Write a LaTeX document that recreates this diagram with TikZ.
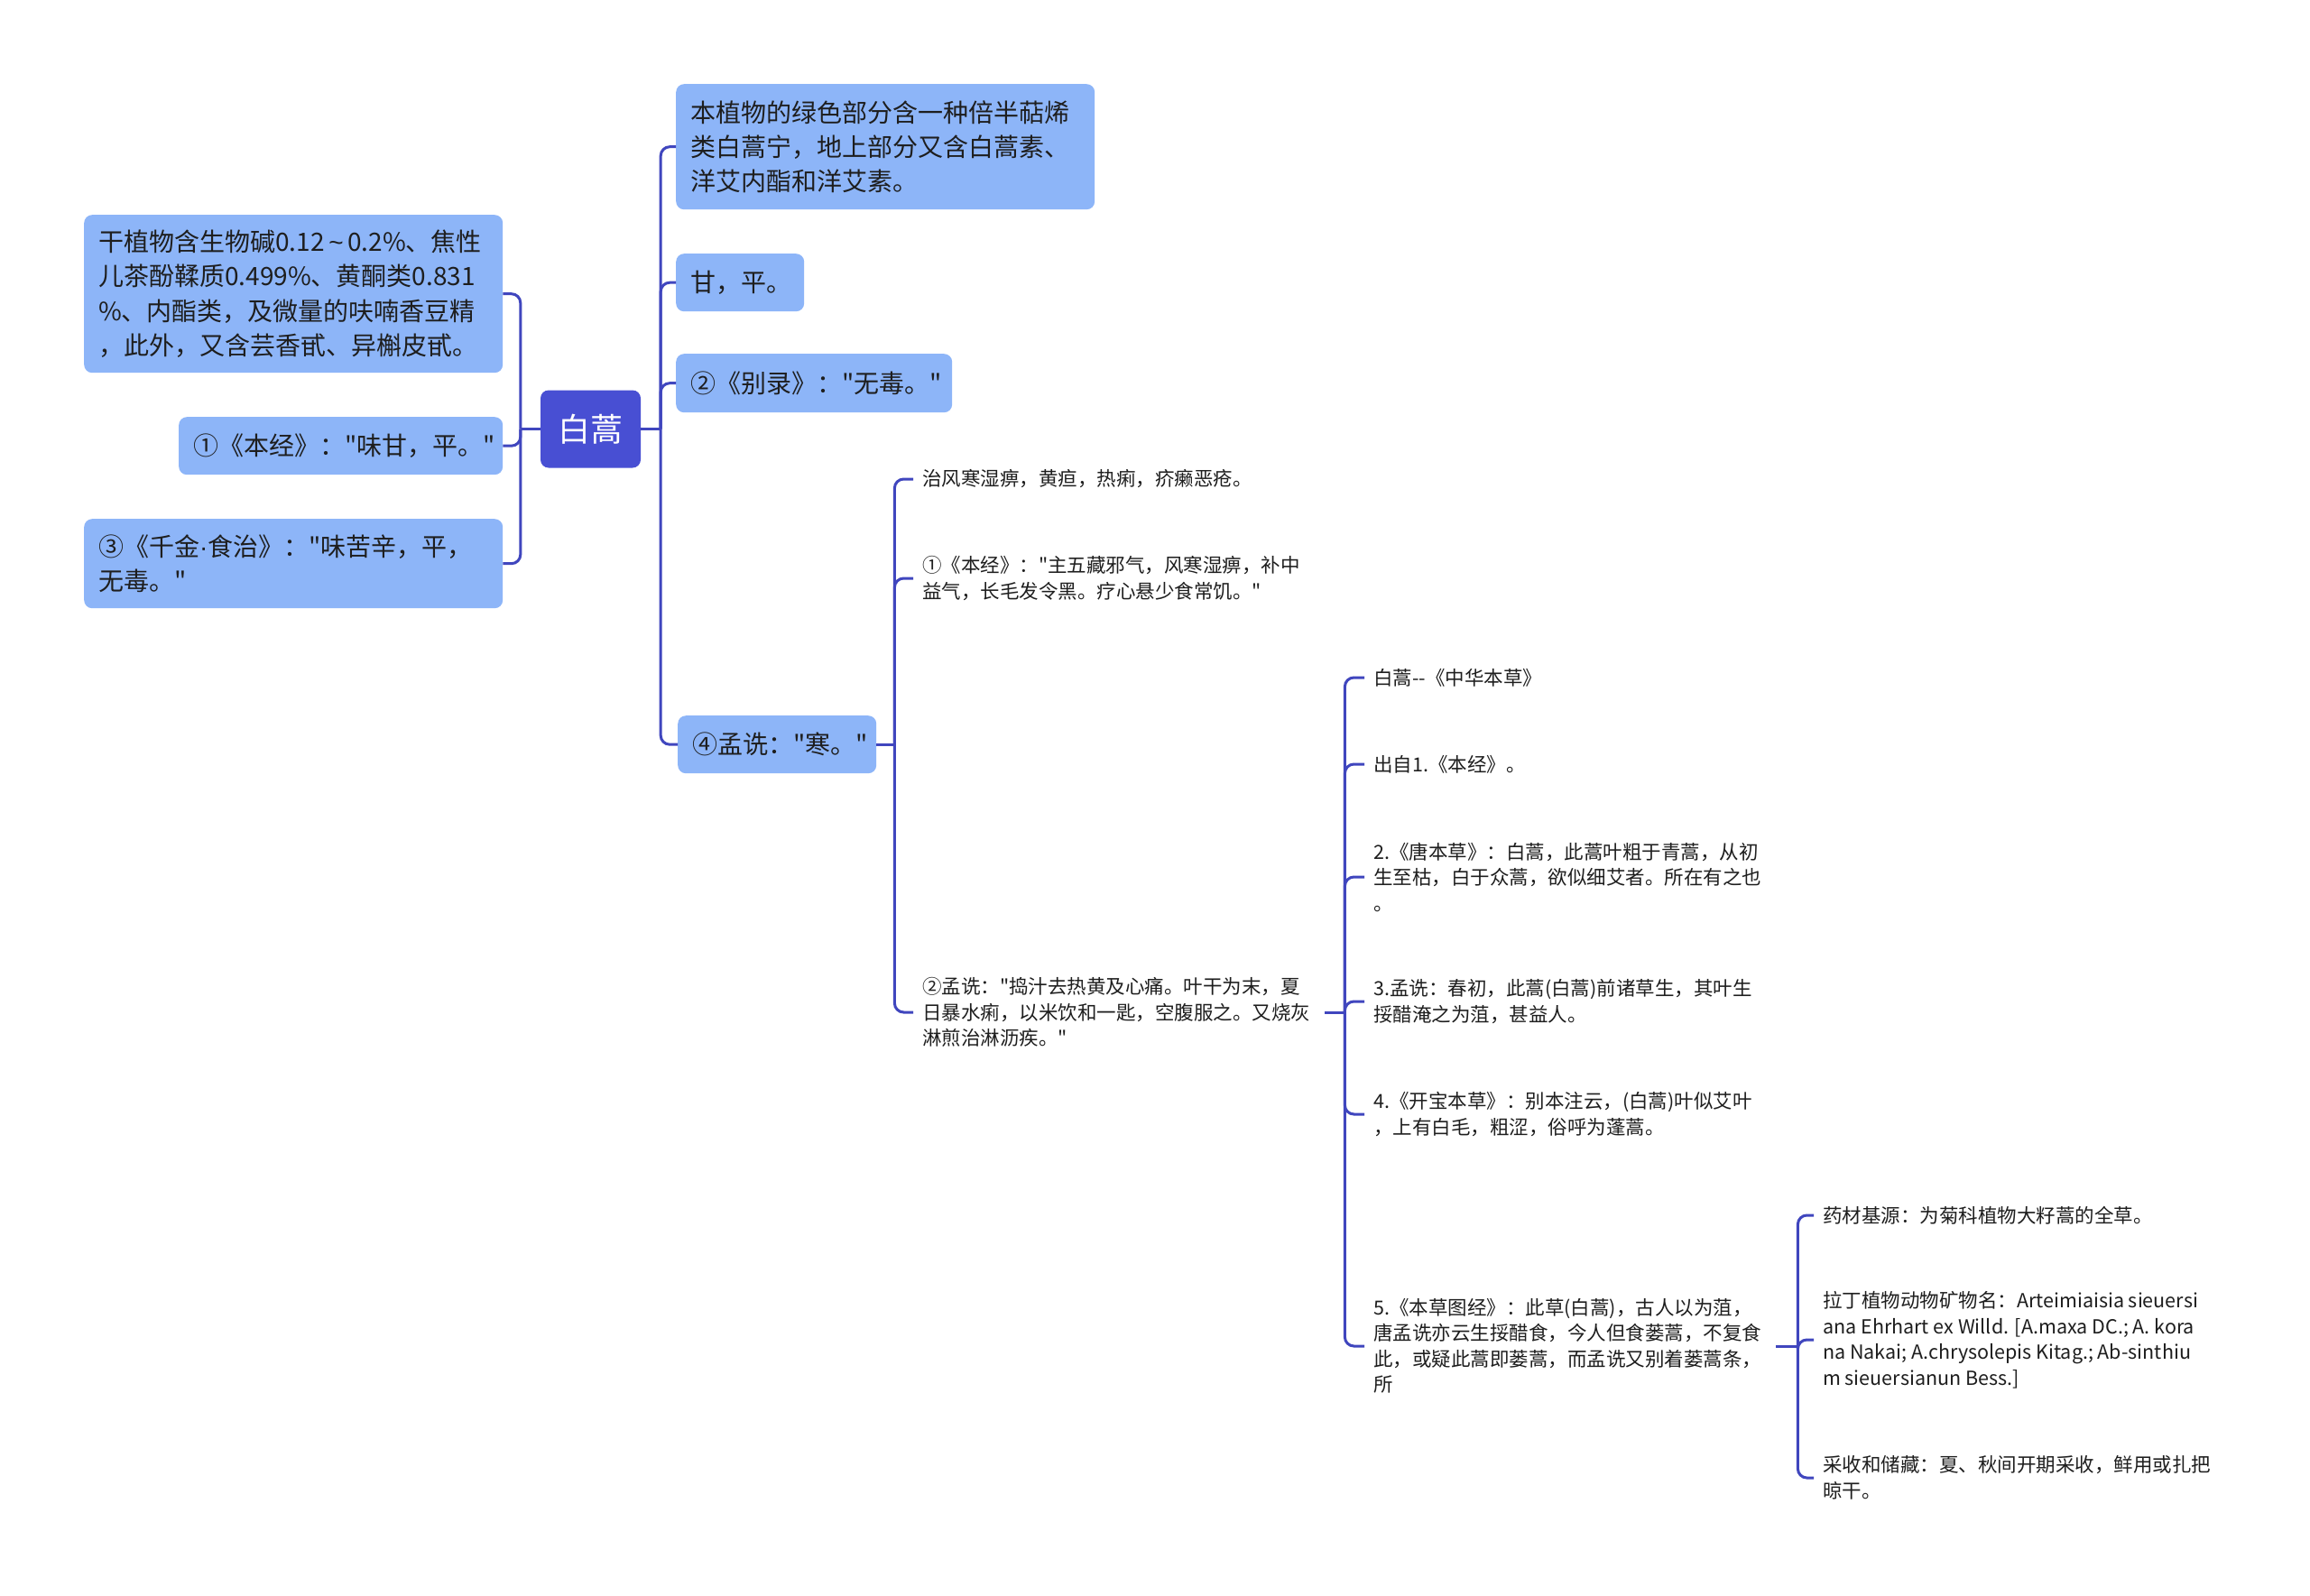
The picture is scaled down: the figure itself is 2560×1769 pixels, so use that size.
\documentclass[tikz,border=0pt]{standalone}
\usepackage{fontspec}
\newfontfamily\cjk{Noto Sans CJK SC}
\newfontfamily\latn{Liberation Sans}
\usetikzlibrary{calc}
\definecolor{boxblue}{RGB}{141,181,248}
\definecolor{rootblue}{RGB}{72,79,211}
\definecolor{linec}{RGB}{64,70,190}
\definecolor{txt}{RGB}{30,30,30}
\tikzset{
  box/.style={fill=boxblue, rounded corners=9pt, anchor=north west, align=left,
    inner xsep=16pt, inner ysep=0pt, text=txt,
    font=\cjk\fontsize{28}{38.4}\selectfont},
  rootbox/.style={fill=rootblue, rounded corners=9pt, text=white, align=center,
    minimum width=111pt, minimum height=86pt, inner sep=0pt,
    font=\cjk\fontsize{36}{40}\selectfont},
  leaf/.style={anchor=west, align=left, inner xsep=10pt, inner ysep=2pt, text=txt,
    font=\cjk\fontsize{21.5}{28.5}\selectfont},
  conn/.style={draw=linec, line width=3pt},
  rc/.style={conn, rounded corners=10pt}
}
\begin{document}
\begin{tikzpicture}[x=1pt,y=-1pt]
\fill[white] (0,0) rectangle (2560,1769);
\useasboundingbox (0,0) rectangle (2560,1769);

% root
\node[rootbox] (root) at (654.5,475.5) {白蒿};

% left branches
\node[box, text width=432pt, minimum height=175pt] (L1) at (93,238)
  {干植物含生物碱0.12{\latn\,\textasciitilde\,}0.2\%、焦性\\儿茶酚鞣质0.499\%、黄酮类0.831\\\%、内酯类，及微量的呋喃香豆精\\，此外，又含芸香甙、异槲皮甙。};
\node[box, text width=327pt, minimum height=64pt] (L2) at (198,462)
  {①《本经》："味甘，平。"};
\node[box, text width=432pt, minimum height=99pt] (L3) at (93,575)
  {③《千金{\latn ·}食治》："味苦辛，平，\\无毒。"};

% right branches
\node[box, text width=432pt, minimum height=139pt] (R1) at (749,93)
  {本植物的绿色部分含一种倍半萜烯\\类白蒿宁，地上部分又含白蒿素、\\洋艾内酯和洋艾素。};
\node[box, text width=110pt, minimum height=64pt] (R2) at (749,281)
  {甘，平。};
\node[box, text width=274pt, minimum height=65pt] (R3) at (749,392)
  {②《别录》："无毒。"};
\node[box, text width=188pt, minimum height=64pt] (R4) at (751,793)
  {④孟诜："寒。"};

% level 2 under R4
\node[leaf] (A1) at (1012,531) {治风寒湿痹，黄疸，热痢，疥癞恶疮。};
\node[leaf] (A2) at (1012,641) {①《本经》："主五藏邪气，风寒湿痹，补中\\益气，长毛发令黑。疗心悬少食常饥。"};
\node[leaf, text width=436pt] (A3) at (1012,1122) {②孟诜："捣汁去热黄及心痛。叶干为末，夏\\日暴水痢，以米饮和一匙，空腹服之。又烧灰\\淋煎治淋沥疾。"};

% level 3 under A3
\node[leaf] (B1) at (1512,751) {白蒿-{}-《中华本草》};
\node[leaf] (B2) at (1512,847) {出自1.《本经》。};
\node[leaf] (B3) at (1512,972) {2.《唐本草》：白蒿，此蒿叶粗于青蒿，从初\\生至枯，白于众蒿，欲似细艾者。所在有之也\\。};
\node[leaf] (B4) at (1512,1110) {3.孟诜：春初，此蒿(白蒿)前诸草生，其叶生\\挼醋淹之为菹，甚益人。};
\node[leaf] (B5) at (1512,1235) {4.《开宝本草》：别本注云，(白蒿)叶似艾叶\\，上有白毛，粗涩，俗呼为蓬蒿。};
\node[leaf, text width=436pt] (B6) at (1512,1492) {5.《本草图经》：此草(白蒿)，古人以为菹，\\唐孟诜亦云生挼醋食，今人但食蒌蒿，不复食\\此，或疑此蒿即蒌蒿，而孟诜又别着蒌蒿条，\\所};

% level 4 under B6
\node[leaf] (C1) at (2010,1347) {药材基源：为菊科植物大籽蒿的全草。};
\node[leaf] (C2) at (2010,1485) {拉丁植物动物矿物名：Arteimiaisia sieuersi\\ana Ehrhart ex Willd. [A.maxa DC.; A. kora\\na Nakai; A.chrysolepis Kitag.; Ab-sinthiu\\m sieuersianun Bess.]};
\node[leaf] (C3) at (2010,1638) {采收和储藏：夏、秋间开期采收，鲜用或扎把\\晾干。};

% junctions
\coordinate (jR) at ($(root.east)+(22,0)$);
\coordinate (jL) at ($(root.west)+(-22,0)$);
\coordinate (jA) at ($(R4.east)+(20,0)$);
\coordinate (jB) at ($(A3.east)+(22,0)$);
\coordinate (jC) at ($(B6.east)+(24,0)$);

% connectors
\draw[conn] (root.east) -- (jR);
\foreach \n in {R1,R2,R3,R4} \draw[rc] (jR) |- (\n.west);
\draw[conn] (root.west) -- (jL);
\foreach \n in {L1,L2,L3} \draw[rc] (jL) |- (\n.east);
\draw[conn] (R4.east) -- (jA);
\foreach \n in {A1,A2,A3} \draw[rc] (jA) |- (\n.west);
\draw[conn] (A3.east) -- (jB);
\foreach \n in {B1,B2,B3,B4,B5,B6} \draw[rc] (jB) |- (\n.west);
\draw[conn] (B6.east) -- (jC);
\foreach \n in {C1,C2,C3} \draw[rc] (jC) |- (\n.west);
\end{tikzpicture}
\end{document}
